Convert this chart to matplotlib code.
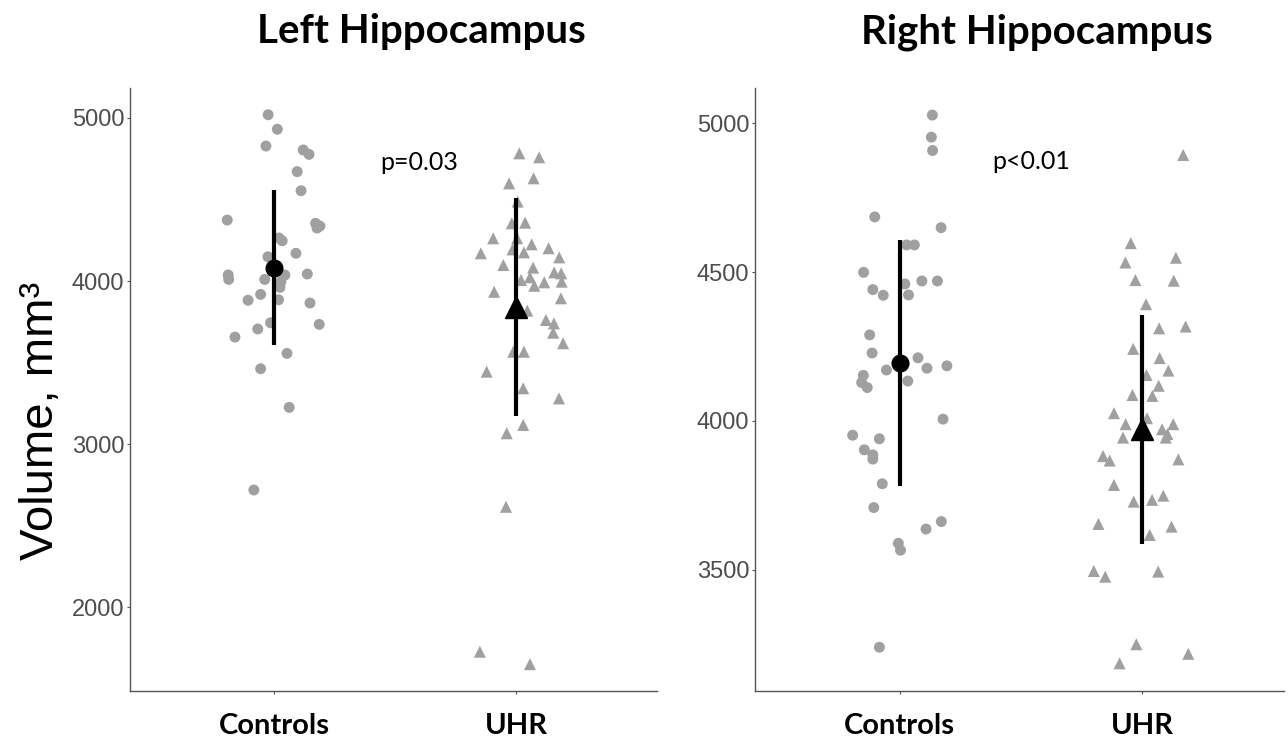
import matplotlib
matplotlib.use('Agg')
import matplotlib.pyplot as plt
import numpy as np

# ── Data ──────────────────────────────────────────────────
groups = ['Controls', 'UHR']

# Left hippocampus volumes (mm^3) and horizontal jitter (category units)
lh_ctrl_vol = [5020, 4931, 4828, 4804, 4777, 4671, 4554, 4374, 4354, 4337, 4325,
               4264, 4247, 4170, 4149, 4037, 4010, 4037, 4043, 4010, 3996, 3961,
               3918, 3882, 3885, 3865, 3744, 3706, 3734, 3656, 3556, 3462, 3225, 2718]
lh_ctrl_jit = [-0.024, 0.014, -0.033, 0.121, 0.145, 0.096, 0.112, -0.193, 0.172, 0.19, 0.178,
               0.021, 0.034, 0.091, -0.025, -0.189, -0.187, 0.045, 0.138, -0.038, 0.029, 0.025,
               -0.055, -0.107, 0.019, 0.149, -0.014, -0.067, 0.187, -0.161, 0.054, -0.055, 0.063, -0.083]
lh_uhr_vol = [4783, 4759, 4599, 4630, 4487, 4354, 4358, 4262, 4262, 4170, 4194,
              4225, 4176, 4201, 4145, 4098, 4082, 4053, 4047, 4006, 4023, 3971,
              3992, 3996, 3934, 3894, 3818, 3761, 3740, 3683, 3618, 3566, 3566,
              3444, 3342, 3280, 3117, 3066, 2615, 1726, 1650]
lh_uhr_jit = [0.014, 0.096, -0.028, 0.073, 0.007, -0.017, 0.038, -0.094, 0.005, -0.145, -0.014,
              0.065, 0.033, 0.135, 0.179, -0.052, 0.071, 0.158, 0.187, 0.021, 0.058, 0.076,
              0.117, 0.189, -0.09, 0.186, 0.047, 0.124, 0.157, 0.154, 0.195, -0.011, 0.033,
              -0.121, 0.03, 0.178, 0.03, -0.038, -0.041, -0.149, 0.058]

# Right hippocampus
rh_ctrl_vol = [5027, 4953, 4908, 4685, 4649, 4591, 4591, 4499, 4460, 4470, 4470,
               4441, 4422, 4423, 4289, 4228, 4212, 4177, 4185, 4171, 4153, 4129,
               4112, 4134, 4006, 3952, 3940, 3903, 3886, 3872, 3789, 3709, 3637,
               3662, 3589, 3566, 3240]
rh_ctrl_jit = [0.135, 0.131, 0.136, -0.102, 0.171, 0.029, 0.061, -0.148, 0.022, 0.092, 0.156,
               -0.11, -0.067, 0.037, -0.123, -0.113, 0.076, 0.113, 0.195, -0.054, -0.149, -0.156,
               -0.133, 0.034, 0.179, -0.193, -0.083, -0.145, -0.11, -0.11, -0.071, -0.106, 0.109,
               0.172, -0.005, 0.004, -0.083]
rh_uhr_vol = [4893, 4597, 4532, 4548, 4473, 4471, 4392, 4311, 4317, 4242, 4211,
              4154, 4169, 4118, 4087, 4084, 4026, 3989, 4009, 3944, 3972, 3989,
              3956, 3944, 3882, 3867, 3871, 3785, 3729, 3735, 3749, 3654, 3645,
              3617, 3496, 3477, 3494, 3250, 3218, 3186]
rh_uhr_jit = [0.168, -0.048, -0.07, 0.138, -0.029, 0.129, 0.015, 0.069, 0.178, -0.038, 0.071,
              0.017, 0.107, 0.067, -0.041, 0.041, -0.117, -0.069, 0.019, -0.08, 0.081, 0.127,
              0.103, 0.096, -0.162, -0.135, 0.148, -0.117, -0.036, 0.04, 0.086, -0.181, 0.12,
              0.03, -0.2, -0.153, 0.065, -0.025, 0.189, -0.094]

# Group mean and SD
lh_mean = [4082, 3842]
lh_sd   = [476, 670]
rh_mean = [4194, 3972]
rh_sd   = [412, 385]

lh_ticks = [2000, 3000, 4000, 5000]
rh_ticks = [3500, 4000, 4500, 5000]

GREY = '#a0a0a0'
AXC  = '#555555'
BOLD_FONT = ['Lato', 'DejaVu Sans']

plt.rcParams['font.family'] = ['Liberation Sans', 'DejaVu Sans']

fig = plt.figure(figsize=(12.88, 7.42), dpi=100)
ax_l = fig.add_axes([0.1009, 0.0687, 0.4092, 0.8127])
ax_r = fig.add_axes([0.5862, 0.0687, 0.4107, 0.8127])


def draw_panel(ax, ctrl_vol, ctrl_jit, uhr_vol, uhr_jit, means, sds, ylim, ticks, ptext, ppos):
    ax.scatter(1 + np.array(ctrl_jit), ctrl_vol, s=62, marker='o', color=GREY,
               edgecolors='none', zorder=2)
    ax.scatter(2 + np.array(uhr_jit), uhr_vol, s=75, marker='^', color=GREY,
               edgecolors='none', zorder=2)
    for i, (m, sd) in enumerate(zip(means, sds)):
        ax.plot([i + 1, i + 1], [m - sd, m + sd], color='black', lw=3.0,
                solid_capstyle='butt', zorder=3)
    ax.plot([1], [means[0]], marker='o', ms=12, color='black', zorder=4)
    ax.plot([2], [means[1]], marker='^', ms=16, color='black', zorder=4)

    ax.text(ppos[0], ppos[1], ptext, ha='center', va='center', fontsize=18,
            family=BOLD_FONT)

    ax.set_xlim(0.405, 2.583)
    ax.set_ylim(*ylim)
    ax.set_xticks([1, 2])
    ax.set_xticklabels(groups, fontsize=21, fontweight='bold', color='black',
                       family=BOLD_FONT)
    ax.set_yticks(ticks)
    ax.set_yticklabels([str(t) for t in ticks], fontsize=17, color='#4d4d4d')
    ax.tick_params(axis='both', length=2.5, width=0.8, color=AXC)
    ax.tick_params(axis='x', pad=13)
    ax.tick_params(axis='y', pad=1.5)
    for side in ['top', 'right']:
        ax.spines[side].set_visible(False)
    for side in ['left', 'bottom']:
        ax.spines[side].set_color(AXC)
        ax.spines[side].set_linewidth(1.0)


draw_panel(ax_l, lh_ctrl_vol, lh_ctrl_jit, lh_uhr_vol, lh_uhr_jit, lh_mean, lh_sd,
           (1485, 5184), lh_ticks, 'p=0.03', (1.60, 4724))
draw_panel(ax_r, rh_ctrl_vol, rh_ctrl_jit, rh_uhr_vol, rh_uhr_jit, rh_mean, rh_sd,
           (3093, 5118), rh_ticks, 'p<0.01', (1.541, 4870))

ax_l.set_ylabel('Volume, mm³', fontsize=34)
ax_l.yaxis.set_label_coords(-0.127, 0.448)

fig.text(421 / 1288, 1 - 32 / 742, 'Left Hippocampus', ha='center', va='center',
         fontsize=29, fontweight='bold', family=BOLD_FONT)
fig.text(1037 / 1288, 1 - 32 / 742, 'Right Hippocampus', ha='center', va='center',
         fontsize=29, fontweight='bold', family=BOLD_FONT)

fig.savefig('out.png', dpi=100)
